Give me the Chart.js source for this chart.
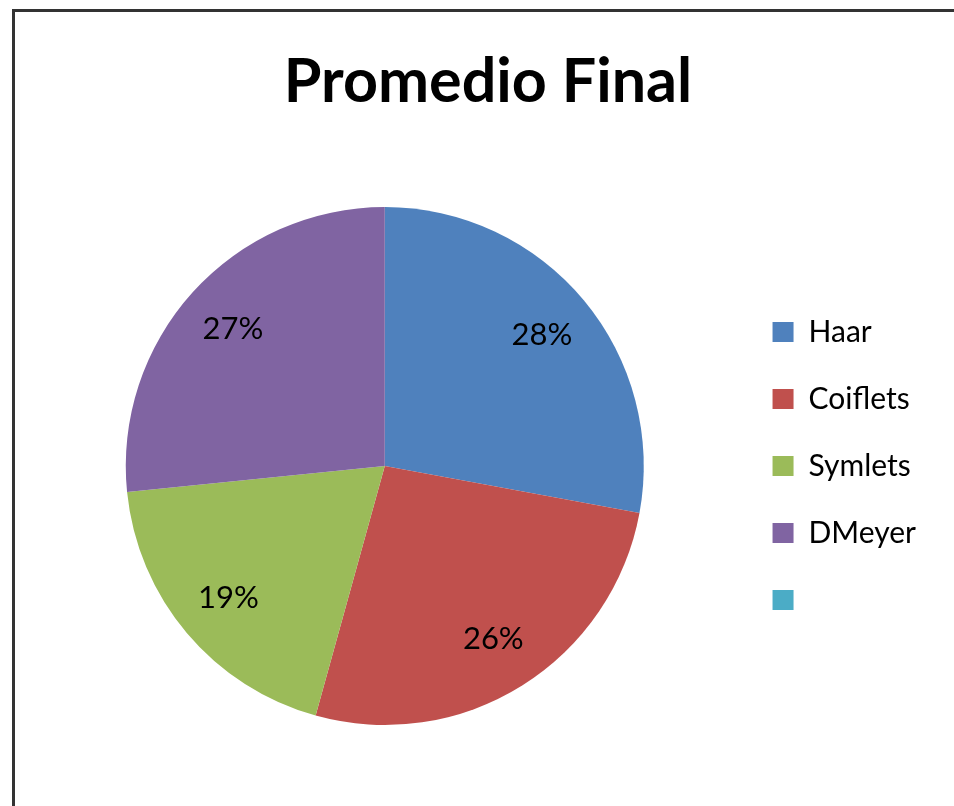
<!DOCTYPE html>
<html lang="es">

<head>
    <meta charset="UTF-8">
    <title>Promedio Final</title>
    <script src="https://cdn.jsdelivr.net/npm/chart.js"></script>
    <style>
        html,
        body {
            margin: 0;
            padding: 0;
            overflow: hidden;
            background-color: #ffffff;
        }

        body {
            width: 954px;
            height: 806px;
            position: relative;
        }

        .marco {
            position: absolute;
            left: 12px;
            top: 9px;
            width: 1200px;
            height: 900px;
            border-left: 3px solid #333333;
            border-top: 3px solid #333333;
        }

        #titulo {
            position: absolute;
            left: 488px;
            top: 48px;
            transform: translateX(-50%);
            font-family: Lato, sans-serif;
            font-weight: bold;
            font-size: 61px;
            line-height: 61px;
            color: #000000;
            white-space: nowrap;
            margin: 0;
        }

        #graficaPromedio {
            position: absolute;
            left: 15px;
            top: 12px;
        }
    </style>
</head>

<body>
    <div class="marco"></div>
    <canvas id="graficaPromedio" width="930" height="794"></canvas>
    <h1 id="titulo">Promedio Final</h1>

    <script>
        // Datos
        const categorias = ['Haar', 'Coiflets', 'Symlets', 'DMeyer', ''];
        const promedios = [27.9, 26.4, 19.1, 26.6, 0];
        const colores = ['#4F81BD', '#C0504D', '#9BBB59', '#8064A2', '#4BACC6'];

        // Porcentajes dentro de cada rebanada
        const etiquetasPorcentaje = {
            id: 'etiquetasPorcentaje',
            afterDatasetsDraw(chart) {
                const ctx = chart.ctx;
                const meta = chart.getDatasetMeta(0);
                const valores = chart.data.datasets[0].data;
                const total = valores.reduce((a, b) => a + b, 0);
                ctx.save();
                ctx.font = '31px Lato, sans-serif';
                ctx.fillStyle = '#000000';
                ctx.textAlign = 'center';
                ctx.textBaseline = 'middle';
                meta.data.forEach((arco, i) => {
                    if (!valores[i]) return;
                    const p = arco.getProps(['x', 'y', 'startAngle', 'endAngle', 'outerRadius'], true);
                    const medio = (p.startAngle + p.endAngle) / 2;
                    const r = p.outerRadius * 0.79;
                    const texto = Math.round(valores[i] / total * 100) + '%';
                    ctx.fillText(texto, p.x + Math.cos(medio) * r, p.y + Math.sin(medio) * r);
                });
                ctx.restore();
            }
        };

        const ctx = document.getElementById('graficaPromedio').getContext('2d');
        new Chart(ctx, {
            type: 'pie',
            data: {
                labels: categorias,
                datasets: [{
                    data: promedios,
                    backgroundColor: colores,
                    borderWidth: 0
                }]
            },
            options: {
                responsive: false,
                animation: false,
                layout: {
                    padding: { top: 195, bottom: 81, left: 19, right: 19 }
                },
                plugins: {
                    title: { display: false },
                    tooltip: { enabled: false },
                    legend: {
                        position: 'right',
                        labels: {
                            boxWidth: 21,
                            boxHeight: 20,
                            padding: 37,
                            color: '#000000',
                            font: { family: 'Lato, sans-serif', size: 30 }
                        }
                    }
                }
            },
            plugins: [etiquetasPorcentaje]
        });
    </script>
</body>

</html>
